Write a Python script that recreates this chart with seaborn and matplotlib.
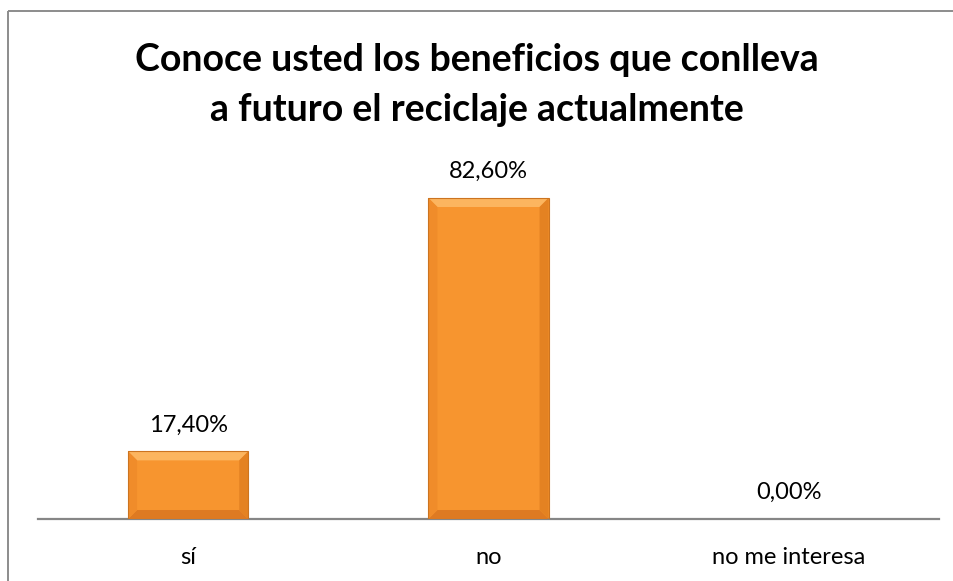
import matplotlib
matplotlib.use("Agg")
import matplotlib.pyplot as plt
import seaborn as sns
import pandas as pd
from matplotlib.patches import Rectangle, Polygon
from matplotlib.lines import Line2D

categories = ["sí", "no", "no me interesa"]
values = [17.4, 82.6, 0.0]
value_labels = ["17,40%", "82,60%", "0,00%"]
title = "Conoce usted los beneficios que conlleva\na futuro el reciclaje actualmente"

sns.set_theme(style="white")
plt.rcParams["font.family"] = ["Lato", "DejaVu Sans"]

W, H = 954, 581
fig = plt.figure(figsize=(W / 100, H / 100), dpi=100)
ax_left, ax_right, ax_bottom = 38 / W, 939 / W, 62 / H
ymax = 90.0
px_per_unit = 321 / 82.6
ax_h = ymax * px_per_unit / H
ax = fig.add_axes([ax_left, ax_bottom, ax_right - ax_left, ax_h])

df = pd.DataFrame({"cat": categories, "val": values})
face = "#F7952F"
sns.barplot(data=df, x="cat", y="val", color=face, saturation=1, width=0.4,
            ax=ax, edgecolor="none", linewidth=0)

ax.set_ylim(0, ymax)
ax.set_xlim(-0.5, 2.5)
ax.set_yticks([])
ax.set_xlabel("")
ax.set_ylabel("")
for s in ["top", "right", "left"]:
    ax.spines[s].set_visible(False)
ax.spines["bottom"].set_color("#868686")
ax.spines["bottom"].set_linewidth(1.6)
ax.tick_params(axis="x", length=0, pad=20, labelsize=17, labelcolor="#000000")

# bevel effect derived from the library's bar patches
ax_w_px = (ax_right - ax_left) * W
bx = 9 / (ax_w_px / 3.0)
for p in list(ax.patches):
    x0, y0, w, h = p.get_x(), p.get_y(), p.get_width(), p.get_height()
    if h <= 0:
        continue
    by = min(9 / px_per_unit, h / 2)
    x1, y1 = x0 + w, y0 + h
    ax.add_patch(Polygon([(x0, y1), (x1, y1), (x1 - bx, y1 - by), (x0 + bx, y1 - by)],
                         closed=True, facecolor="#FCB55F", edgecolor="none", zorder=3))
    ax.add_patch(Polygon([(x0, y0), (x1, y0), (x1 - bx, y0 + by), (x0 + bx, y0 + by)],
                         closed=True, facecolor="#DE7A22", edgecolor="none", zorder=3))
    ax.add_patch(Polygon([(x0, y0), (x0, y1), (x0 + bx, y1 - by), (x0 + bx, y0 + by)],
                         closed=True, facecolor="#F08C2A", edgecolor="none", zorder=3))
    ax.add_patch(Polygon([(x1, y0), (x1, y1), (x1 - bx, y1 - by), (x1 - bx, y0 + by)],
                         closed=True, facecolor="#E48222", edgecolor="none", zorder=3))
    ax.add_patch(Rectangle((x0, y0), w, h, facecolor="none", edgecolor="#CC7420",
                           linewidth=0.8, zorder=4))

for i, (v, lab) in enumerate(zip(values, value_labels)):
    ax.annotate(lab, xy=(i, v), xytext=(0, 19), textcoords="offset points",
                ha="center", va="center", fontsize=17, color="#000000")

fig.text(0.5, 1 - 85 / H, title, ha="center", va="center", fontsize=27,
         fontweight="bold", color="#000000", linespacing=1.55)

bx0, by0 = 8.5 / W, 1 - 10.5 / H
fig.add_artist(Line2D([bx0, bx0], [0, by0], transform=fig.transFigure,
                      color="#8C8C8C", linewidth=1.4, solid_capstyle="butt"))
fig.add_artist(Line2D([bx0, 1.0], [by0, by0], transform=fig.transFigure,
                      color="#8C8C8C", linewidth=1.4, solid_capstyle="butt"))

fig.savefig("out.png", dpi=100)
